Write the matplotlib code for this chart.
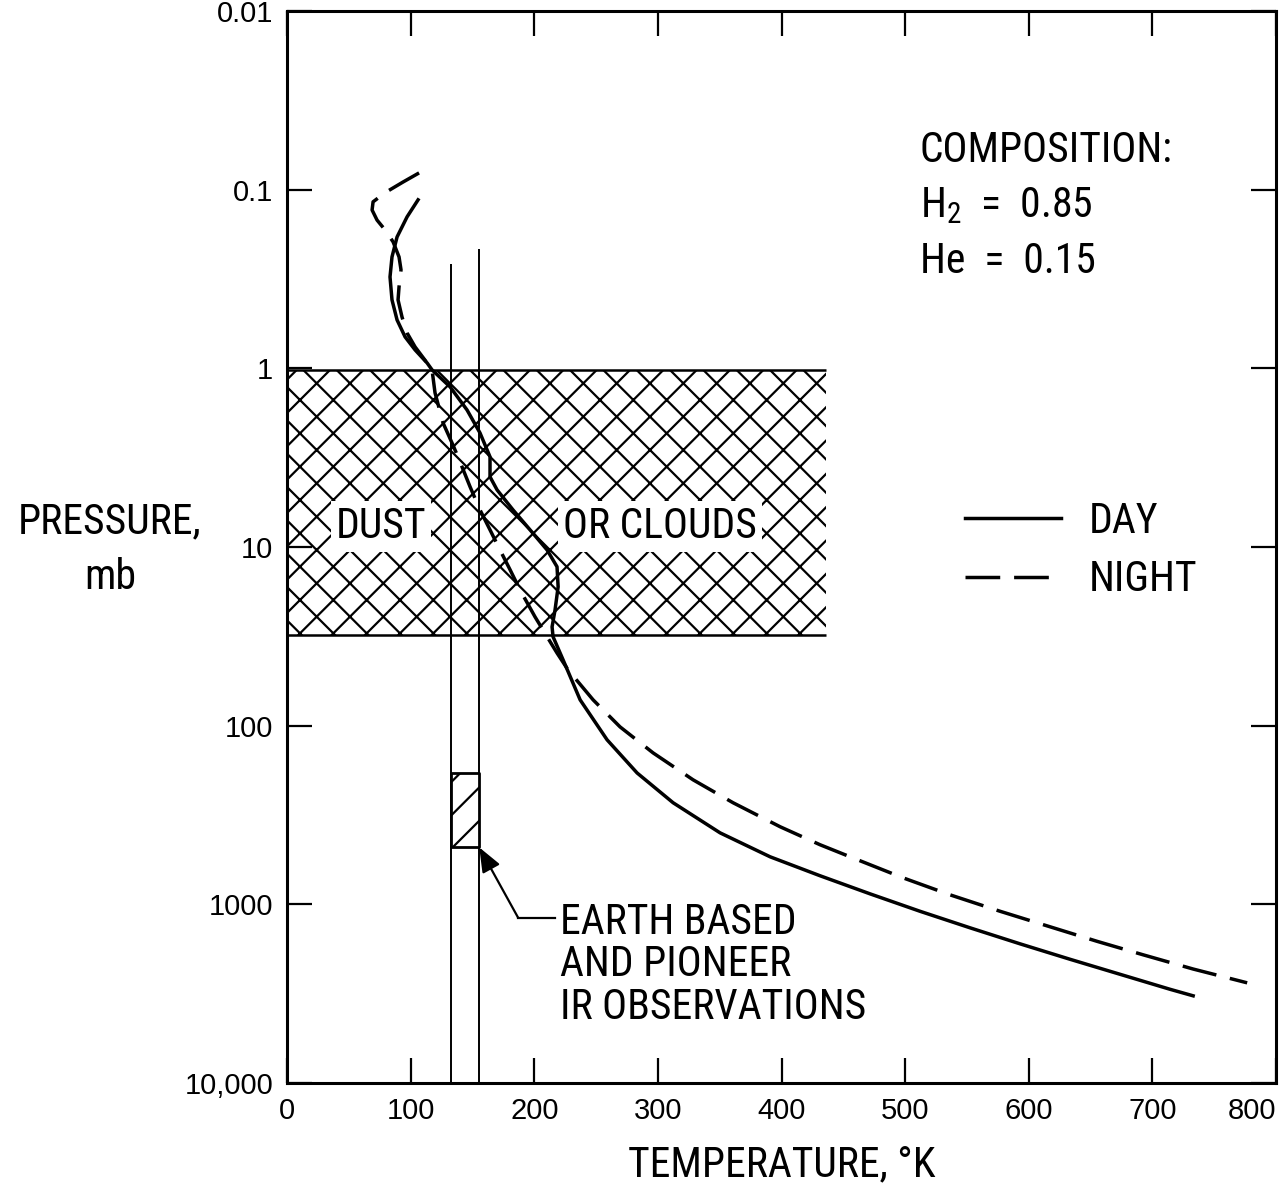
import matplotlib
matplotlib.use("Agg")
import matplotlib.pyplot as plt
from matplotlib import font_manager

# day / night temperature profiles (K) vs pressure (mb)
day_temp = [106.0, 97.1, 89.0, 84.9, 83.3, 84.9, 89.0, 95.5, 103.6, 113.3, 117.3,
            131.9, 145.6, 156.1, 164.2, 164.2, 169.9, 182.8, 196.6, 210.4, 218.4,
            219.3, 216.8, 214.4, 215.2, 223.3, 237.1, 258.9, 283.2, 312.3, 350.3,
            390.8, 431.2, 471.7, 512.1, 552.6, 593.0, 633.5, 673.9, 714.4, 733.0]
day_pres = [0.114, 0.142, 0.184, 0.238, 0.308, 0.414, 0.536, 0.667, 0.789, 0.933, 1.02,
            1.27, 1.71, 2.30, 3.13, 4.05, 4.79, 6.20, 8.02, 10.4, 12.9,
            16.7, 22.5, 28.0, 31.8, 42.8, 71.7, 120, 184, 270, 398,
            542, 692, 874, 1094, 1354, 1664, 2031, 2464, 2990, 3251]

night_temp = [106.8, 93.9, 79.3, 69.6, 68.8, 72.8, 79.3, 85.8, 90.6, 92.2, 90.6,
              89.8, 93.0, 97.1, 103.6, 113.3, 117.3, 119.7, 126.2, 133.5, 138.3,
              148.1, 156.1, 164.2, 172.3, 180.4, 188.5, 200.6, 210.4, 218.4, 227.3,
              247.6, 269.4, 296.1, 328.5, 360.8, 398.9, 431.2, 455.5, 498.4, 536.4,
              576.9, 617.3, 655.3, 692.6, 733.0, 776.7]
night_pres = [0.0806, 0.0906, 0.104, 0.117, 0.130, 0.148, 0.168, 0.196, 0.238, 0.281, 0.350,
              0.414, 0.516, 0.634, 0.759, 0.933, 1.02, 1.37, 2.02, 2.62, 3.13,
              4.61, 6.20, 8.02, 10.4, 13.4, 17.4, 24.6, 31.8, 39.2, 48.7,
              71.7, 101.6, 142, 201, 270, 368, 464, 542, 711, 885,
              1094, 1336, 1611, 1917, 2302, 2750]

# dust / cloud layer
cloud_top, cloud_bottom = 1.02, 31.0
cloud_tmax = 436

# earth based and pioneer IR observations
obs_temps = [133, 155]
obs_tops = [0.26, 0.215]
obs_pres = [184, 477]

x_ticks = [0, 100, 200, 300, 400, 500, 600, 700, 800]
y_ticks = [0.01, 0.1, 1, 10, 100, 1000, 10000]
y_labels = ['0.01', '0.1', '1', '10', '100', '1000', '10,000']

# pick the narrowest sans that is actually installed
installed = {f.name for f in font_manager.fontManager.ttflist}
narrow = next((n for n in ['Roboto Condensed', 'Open Sans Condensed',
                           'Liberation Sans Narrow', 'DejaVu Sans Condensed', 'Roboto']
               if n in installed), 'DejaVu Sans')
plt.rcParams['font.family'] = [narrow, 'DejaVu Sans']
plt.rcParams['mathtext.fontset'] = 'custom'
plt.rcParams['mathtext.rm'] = narrow
plt.rcParams['mathtext.default'] = 'regular'
plt.rcParams['hatch.linewidth'] = 0.8

FS = 15

fig = plt.figure(figsize=(6.41, 5.965), dpi=200)
ax = fig.add_axes([0.2239, 0.0922, 0.7714, 0.8986])

ax.set_yscale('log')
ax.set_xlim(0, 800)
ax.set_ylim(10000, 0.01)

# cross hatched cloud layer
ax.axhspan(cloud_top, cloud_bottom, xmin=0, xmax=cloud_tmax / 800,
           facecolor='white', edgecolor='black', hatch='xx', linewidth=0, zorder=1)
ax.hlines([cloud_top, cloud_bottom], 0, cloud_tmax, color='black', lw=0.9, zorder=2)

# observation band
ax.vlines(obs_temps[0], obs_tops[0], 10000, color='black', lw=0.7, zorder=2)
ax.vlines(obs_temps[1], obs_tops[1], 10000, color='black', lw=0.7, zorder=2)
ax.fill_betweenx(obs_pres, obs_temps[0], obs_temps[1], facecolor='white',
                 edgecolor='black', hatch='//', linewidth=1.0, zorder=3)

ax.plot(day_temp, day_pres, color='black', lw=1.25, zorder=4, label='DAY')
ax.plot(night_temp, night_pres, color='black', lw=1.25, ls=(0, (10, 4)),
        zorder=4, label='NIGHT')

ax.text(76, 7.7, 'DUST', fontsize=FS, ha='center', va='center', zorder=3,
        bbox=dict(boxstyle='square,pad=0.12', fc='white', ec='none'))
ax.text(302, 7.7, 'OR CLOUDS', fontsize=FS, ha='center', va='center', zorder=3,
        bbox=dict(boxstyle='square,pad=0.12', fc='white', ec='none'))

# composition note
ax.text(0.640, 0.8591, 'COMPOSITION:', transform=ax.transAxes, fontsize=FS, va='baseline')
ax.text(0.640, 0.8078, 'H$_2$  =  0.85', transform=ax.transAxes, fontsize=FS, va='baseline')
ax.text(0.640, 0.7556, 'He  =  0.15', transform=ax.transAxes, fontsize=FS, va='baseline')

# observation label with leader
ax.plot([216.8, 187], [1190, 1190], color='black', lw=0.8, zorder=3)
ax.annotate('', xy=(155.5, 480), xytext=(187, 1190),
            arrowprops=dict(arrowstyle='-|>,head_length=0.5,head_width=0.2',
                            mutation_scale=15, color='black', lw=0.8, shrinkA=0, shrinkB=0),
            zorder=3)
ax.text(221, 968, 'EARTH BASED\nAND PIONEER\nIR OBSERVATIONS', fontsize=FS,
        ha='left', va='top', linespacing=1.05)

leg = ax.legend(loc='upper left', bbox_to_anchor=(0.686, 0.543), frameon=False,
                fontsize=FS, handlelength=2.3, handletextpad=0.65, labelspacing=0.42,
                borderpad=0, borderaxespad=0)

ax.set_xticks(x_ticks)
xl = ax.set_xticklabels([str(v) for v in x_ticks],
                        family=['Liberation Sans', 'DejaVu Sans'], fontsize=10.5)
xl[-1].set_horizontalalignment('right')
ax.set_yticks(y_ticks)
ax.set_yticklabels(y_labels, family=['Liberation Sans', 'DejaVu Sans'], fontsize=10.5)
ax.minorticks_off()
ax.tick_params(which='both', direction='in', top=True, right=True, length=9,
               width=0.8, pad=5)
for s in ax.spines.values():
    s.set_linewidth(1.1)

fig.text(0.0858, 0.5624, 'PRESSURE,', fontsize=FS, ha='center', va='center')
fig.text(0.0858, 0.5163, 'mb', fontsize=FS, ha='center', va='center')
fig.text(0.610, 0.0235, 'TEMPERATURE, \u00b0K', fontsize=FS, ha='center', va='center')

fig.savefig('out.png', dpi=200)
